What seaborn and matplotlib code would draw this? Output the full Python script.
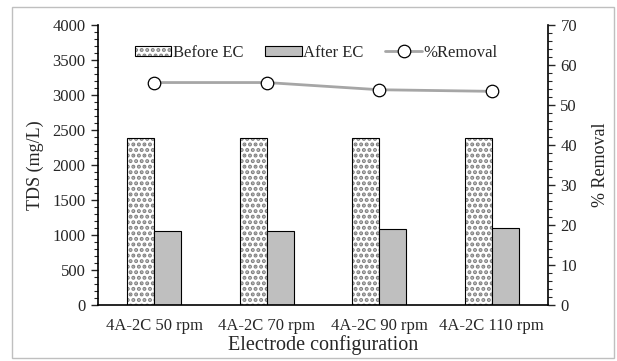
import numpy as np
import pandas as pd
import matplotlib
matplotlib.use("Agg")
import matplotlib.pyplot as plt
import seaborn as sns
from matplotlib.ticker import MultipleLocator
from matplotlib.patches import Rectangle, Patch
from matplotlib.lines import Line2D

configs = ["4A-2C 50 rpm", "4A-2C 70 rpm", "4A-2C 90 rpm", "4A-2C 110 rpm"]
before_ec = [2380, 2380, 2380, 2380]
after_ec = [1056, 1056, 1090, 1104]
removal = [55.6, 55.6, 53.8, 53.4]

sns.set_theme(style="white")
plt.rcParams["font.family"] = ["Liberation Serif", "DejaVu Serif"]
plt.rcParams["hatch.linewidth"] = 2.0

df = pd.DataFrame({
    "config": configs * 2,
    "TDS": before_ec + after_ec,
    "Stage": ["Before EC"] * 4 + ["After EC"] * 4,
})

HATCH_COL = (0.5, 0.5, 0.5, 1.0)

fig = plt.figure(figsize=(6.17, 3.61), dpi=100)
ax = fig.add_axes([0.159, 0.155, 0.729, 0.776])

sns.barplot(data=df, x="config", y="TDS", hue="Stage",
            palette=["white", "#bfbfbf"], edgecolor="black", linewidth=0.8,
            width=0.48, gap=0, ax=ax, legend=False)

n = len(configs)
for p in ax.patches[:n]:
    p.set_hatch("...")
    p._hatch_color = HATCH_COL

ax.set_ylim(0, 4000)
ax.yaxis.set_major_locator(MultipleLocator(500))
ax.yaxis.set_minor_locator(MultipleLocator(100))
ax.tick_params(axis="y", which="major", direction="out", length=5, width=1, left=True, labelsize=12, pad=4)
ax.tick_params(axis="y", which="minor", direction="out", length=3, width=0.8, left=True)
ax.tick_params(axis="x", length=0, labelsize=12, pad=9)
ax.set_xlabel("Electrode configuration", fontsize=14.5, labelpad=1)
ax.set_ylabel("TDS (mg/L)", fontsize=13, labelpad=6)
for s in ["left", "bottom"]:
    ax.spines[s].set_color("black")
    ax.spines[s].set_linewidth(1.2)
for s in ["top", "right"]:
    ax.spines[s].set_visible(False)

ax2 = ax.twinx()
sns.lineplot(x=np.arange(n), y=removal, ax=ax2, color="#a6a6a6", linewidth=2,
             marker="o", markersize=9, markerfacecolor="white",
             markeredgecolor="black", markeredgewidth=0.9)
ax2.set_ylim(0, 70)
ax2.yaxis.set_major_locator(MultipleLocator(10))
ax2.yaxis.set_minor_locator(MultipleLocator(2))
ax2.tick_params(axis="y", which="major", direction="out", length=5, width=1, right=True, labelsize=12, pad=4)
ax2.tick_params(axis="y", which="minor", direction="out", length=3, width=0.8, right=True)
ax2.set_ylabel("% Removal", fontsize=13, labelpad=11)
for s in ["left", "bottom", "top"]:
    ax2.spines[s].set_visible(False)
ax2.spines["right"].set_color("black")
ax2.spines["right"].set_linewidth(1.2)
ax2.grid(False)
ax.grid(False)
ax.set_xlim(-0.5, n - 0.5)

h1 = Patch(facecolor="white", edgecolor="black", hatch="...", linewidth=0.8)
h1._hatch_color = HATCH_COL
h2 = Patch(facecolor="#bfbfbf", edgecolor="black", linewidth=0.8)
h3 = Line2D([], [], color="#a6a6a6", linewidth=2, marker="o", markersize=9,
            markerfacecolor="white", markeredgecolor="black", markeredgewidth=0.9)
ax2.legend([h1, h2, h3], ["Before EC", "After EC", "%Removal"], loc="center",
           bbox_to_anchor=(0.485, 0.9), ncol=3, frameon=False, fontsize=12,
           handlelength=2.2, handleheight=0.6, handletextpad=0.1, columnspacing=1.3)

fig.add_artist(Rectangle((12 / 617, 3 / 361), 602 / 617, 351 / 361, transform=fig.transFigure,
                         fill=False, edgecolor="#bfbfbf", linewidth=1))

fig.savefig("out.png", dpi=100)
